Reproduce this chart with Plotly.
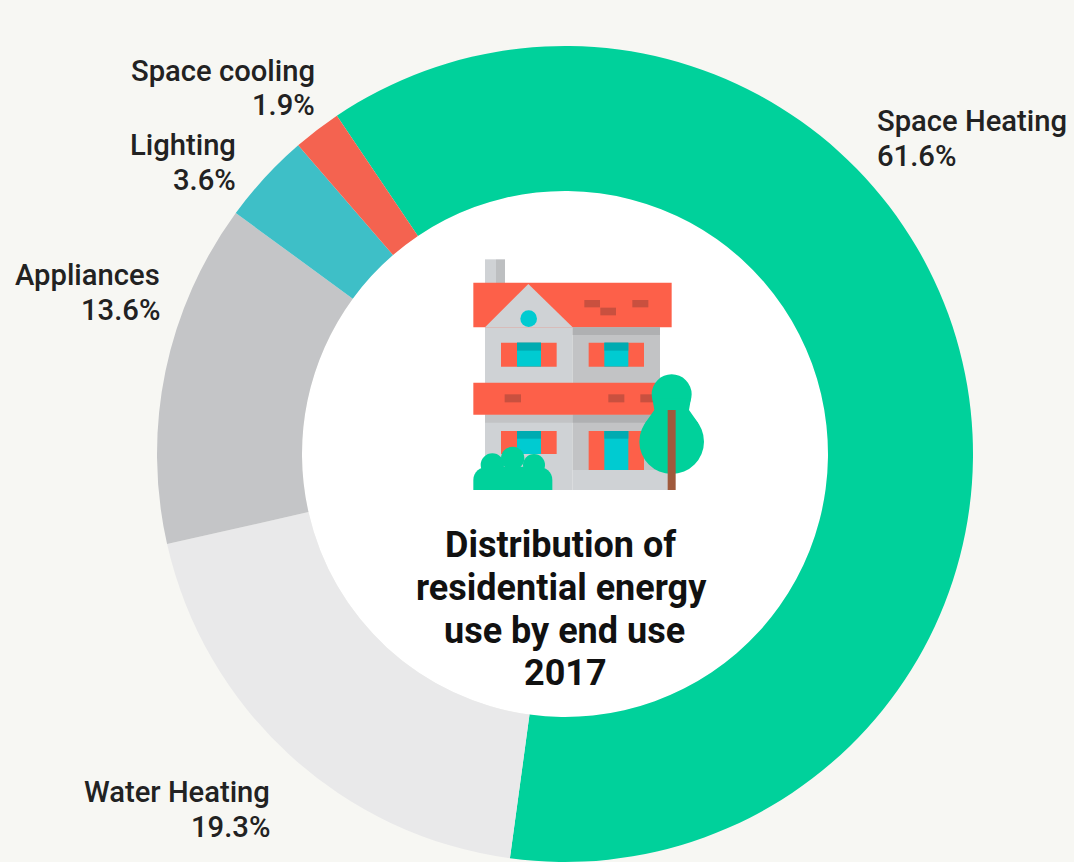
import plotly.graph_objects as go

W, H = 1074, 862

categories = ["Space Heating", "Water Heating", "Appliances", "Lighting", "Space cooling"]
values = [61.6, 19.3, 13.6, 3.6, 1.9]
colors = ["#00D19B", "#E9E9EA", "#C4C5C7", "#3EBFC7", "#F46350"]
title_lines = ["Distribution of", "residential energy", "use by end use", "2017"]

# pie geometry in pixels
CX, CY, R, R_IN = 565, 454, 408, 263

# label anchors: category -> (x px, name line centre y, value line centre y, align)
label_pos = {
    "Space Heating": (875, 121, 156, "left"),
    "Water Heating": (272, 792, 827, "right"),
    "Appliances": (162, 275, 310, "right"),
    "Lighting": (238, 145, 180, "right"),
    "Space cooling": (317, 71, 105, "right"),
}
title_pos = [(560, 545), (561, 588), (564.5, 631), (565, 673)]

def px(x): return x / W
def py(y): return 1 - y / H
def zx(x): return 460 + x / 3
def zy(y): return 250 + y / 3

shapes = []

def rect(x0, y0, x1, y1, c):
    shapes.append(dict(type="rect", xref="paper", yref="paper", x0=px(zx(x0)), x1=px(zx(x1)),
                       y0=py(zy(y0)), y1=py(zy(y1)), fillcolor=c, line_width=0, layer="above"))

def circ(cx, cy, r, c):
    shapes.append(dict(type="circle", xref="paper", yref="paper", x0=px(zx(cx - r)), x1=px(zx(cx + r)),
                       y0=py(zy(cy - r)), y1=py(zy(cy + r)), fillcolor=c, line_width=0, layer="above"))

def poly(pts, c):
    d = "M " + " L ".join(f"{px(zx(x)):.5f},{py(zy(y)):.5f}" for x, y in pts) + " Z"
    shapes.append(dict(type="path", xref="paper", yref="paper", path=d, fillcolor=c, line_width=0, layer="above"))

def P(x, y): return f"{px(zx(x)):.5f},{py(zy(y)):.5f}"

LIGHT, MID, DARK = "#CFD2D5", "#C2C3C5", "#AFB0B2"
RED, BRICK, CYAN, CYAN_D = "#FD6049", "#C9503F", "#00CBD1", "#00ABB1"
GREEN, TRUNK = "#00D19B", "#A05A3C"

# hole
shapes.append(dict(type="circle", xref="paper", yref="paper", x0=px(CX - R_IN), x1=px(CX + R_IN),
                   y0=py(CY - R_IN), y1=py(CY + R_IN), fillcolor="#FFFFFF", line_width=0, layer="below"))

# house
rect(75, 28, 108, 100, LIGHT)
rect(108, 28, 135, 100, "#BDBFC1")
rect(75, 230, 338, 720, LIGHT)
rect(338, 230, 600, 660, MID)
rect(338, 660, 625, 720, LIGHT)
rect(40, 98, 635, 232, RED)
poly([(75, 232), (205, 102), (338, 232)], LIGHT)
rect(338, 232, 600, 255, DARK)
rect(373, 150, 420, 172, BRICK)
rect(421, 173, 468, 196, BRICK)
rect(517, 150, 565, 172, BRICK)
circ(206, 206, 25, CYAN)

def window(x0, x1, g0, g1, y0, y1, ytop):
    rect(x0, y0, x1, y1, RED)
    rect(g0, y0, g1, y1, CYAN)
    rect(g0, y0, g1, ytop, CYAN_D)

window(123, 290, 171, 243, 278, 350, 302)
window(386, 552, 433, 505, 278, 350, 302)
rect(75, 494, 338, 518, MID)
rect(338, 494, 600, 518, DARK)
rect(40, 398, 600, 494, RED)
rect(134, 433, 183, 457, BRICK)
rect(445, 433, 493, 457, BRICK)
rect(541, 433, 589, 457, BRICK)
window(123, 290, 171, 243, 543, 612, 566)
window(386, 552, 433, 505, 543, 660, 566)

# tree
circ(635, 433, 60, GREEN)
circ(635, 575, 97, GREEN)
poly([(577, 445), (583, 480), (555, 520), (715, 520), (687, 480), (693, 445)], GREEN)
rect(623, 480, 647, 720, TRUNK)

# bush
circ(97, 645, 35, GREEN)
circ(158, 625, 35, GREEN)
circ(222, 645, 33, GREEN)
shapes.append(dict(type="path", xref="paper", yref="paper", fillcolor=GREEN, line_width=0, layer="above",
                   path=(f"M {P(40, 720)} L {P(40, 690)} C {P(40, 665)} {P(60, 650)} {P(85, 650)} "
                         f"L {P(232, 650)} C {P(257, 650)} {P(277, 665)} {P(277, 690)} L {P(277, 720)} Z")))

annotations = []
def text(x, y, s, al, size, color, weight):
    annotations.append(dict(xref="paper", yref="paper", x=px(x), y=py(y), showarrow=False,
                            text=s, align=al, xanchor=al, yanchor="middle",
                            font=dict(family="Roboto", size=size, color=color, weight=weight)))

for cat, val in zip(categories, values):
    x, y0, y1, al = label_pos[cat]
    text(x, y0, cat, al, 29.2, "#222222", 500)
    text(x, y1, f"{val}%", al, 29.2, "#222222", 500)
for line, (x, y) in zip(title_lines, title_pos):
    text(x, y, line, "center", 36, "#111111", 700)

fig = go.Figure(go.Pie(
    labels=categories, values=values, sort=False, direction="clockwise", rotation=-34,
    hole=R_IN / R, textinfo="none", hoverinfo="label+percent",
    marker=dict(colors=colors, line=dict(width=0)),
    domain=dict(x=[px(CX - R), px(CX + R)], y=[py(CY + R), py(CY - R)]),
    showlegend=False,
))
fig.update_layout(width=W, height=H, margin=dict(l=0, r=0, t=0, b=0),
                  paper_bgcolor="#F7F7F3", plot_bgcolor="#F7F7F3",
                  shapes=shapes, annotations=annotations)
fig.write_html("out.html", config=dict(displayModeBar=False),
               post_script="document.body.style.margin='0';document.documentElement.style.overflow='hidden';")
